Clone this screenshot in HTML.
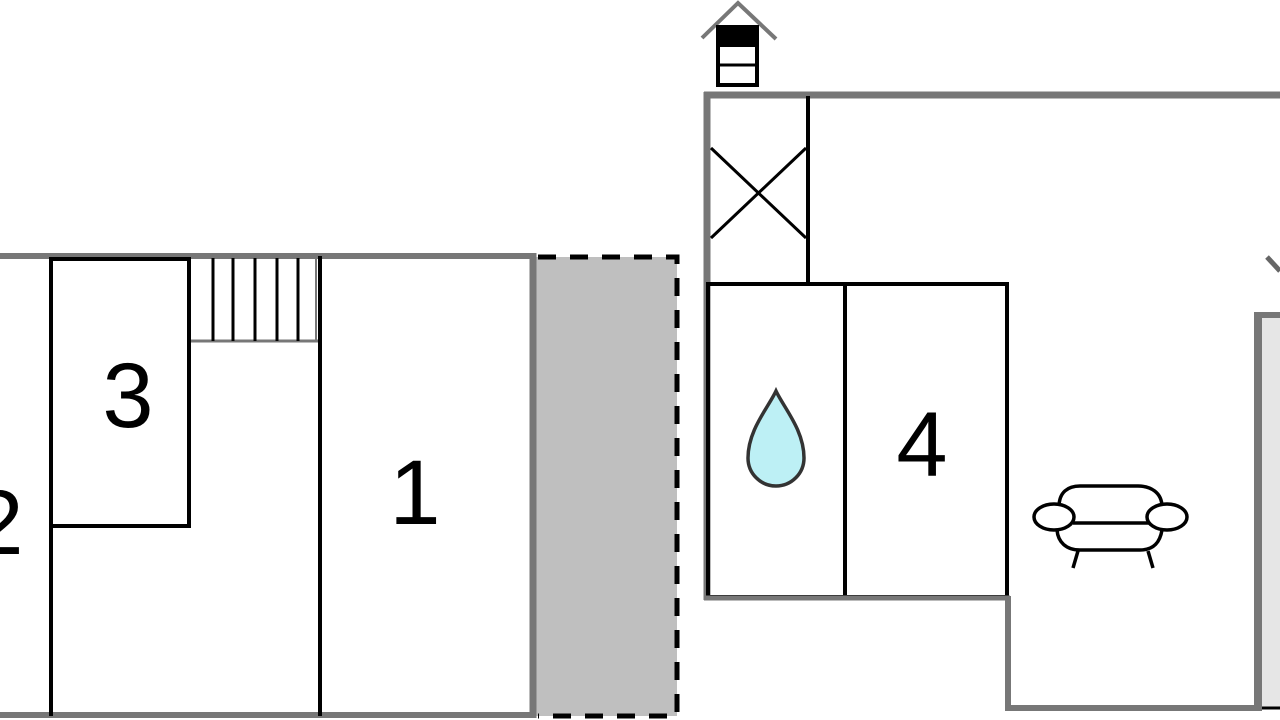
<!DOCTYPE html>
<html><head><meta charset="utf-8"><style>html,body{margin:0;padding:0;background:#fff;width:1280px;height:720px;overflow:hidden}</style></head>
<body>
<svg width="1280" height="720" viewBox="0 0 1280 720" xmlns="http://www.w3.org/2000/svg">
<rect x="536" y="257" width="141" height="459" fill="#bfbfbf"/>
<path d="M538 257 H677 V716 H538" fill="none" stroke="#000" stroke-width="5" stroke-dasharray="18,14"/>
<line x1="0" y1="256" x2="536" y2="256" stroke="#777" stroke-width="6"/>
<line x1="533" y1="253" x2="533" y2="718" stroke="#777" stroke-width="7"/>
<line x1="0" y1="715" x2="536" y2="715" stroke="#777" stroke-width="6"/>
<rect x="51" y="259" width="138" height="267" fill="none" stroke="#000" stroke-width="4"/>
<line x1="51" y1="259" x2="51" y2="716" stroke="#000" stroke-width="4"/>
<line x1="320" y1="256" x2="320" y2="716" stroke="#000" stroke-width="4"/>
<line x1="191" y1="341" x2="318" y2="341" stroke="#777" stroke-width="3"/>
<line x1="316" y1="258" x2="316" y2="341" stroke="#777" stroke-width="2"/>
<g stroke="#000" stroke-width="3">
<line x1="213" y1="258" x2="213" y2="341"/><line x1="233" y1="258" x2="233" y2="341"/><line x1="255" y1="258" x2="255" y2="341"/><line x1="277" y1="258" x2="277" y2="341"/><line x1="298" y1="258" x2="298" y2="341"/>
</g>
<g font-family="Liberation Sans, sans-serif" font-size="92" fill="#000" text-anchor="middle">
<text x="128" y="427">3</text>
<text x="415" y="524">1</text>
<text x="-2" y="554">2</text>
<text x="922" y="476">4</text>
</g>
<polyline points="702,38 738,3 776,39" fill="none" stroke="#777" stroke-width="4"/>
<rect x="718" y="27" width="39" height="58" fill="#fff" stroke="#000" stroke-width="4"/>
<rect x="718" y="27" width="39" height="20" fill="#000"/>
<line x1="718" y1="65" x2="757" y2="65" stroke="#000" stroke-width="3"/>
<line x1="704" y1="95" x2="1280" y2="95" stroke="#777" stroke-width="7"/>
<line x1="707" y1="92" x2="707" y2="600" stroke="#777" stroke-width="7"/>
<line x1="808" y1="96" x2="808" y2="283" stroke="#000" stroke-width="4"/>
<line x1="711" y1="148" x2="806" y2="238" stroke="#000" stroke-width="3"/>
<line x1="806" y1="148" x2="711" y2="238" stroke="#000" stroke-width="3"/>
<rect x="708" y="284" width="299" height="313" fill="none" stroke="#000" stroke-width="4"/>
<line x1="845" y1="284" x2="845" y2="597" stroke="#000" stroke-width="4"/>
<line x1="704" y1="598" x2="1010" y2="598" stroke="#777" stroke-width="5"/>
<line x1="1008" y1="596" x2="1008" y2="710" stroke="#777" stroke-width="6"/>
<line x1="1005" y1="708" x2="1262" y2="708" stroke="#777" stroke-width="6"/>
<rect x="1262" y="318" width="18" height="390" fill="#e6e6e6"/>
<line x1="1258" y1="312" x2="1258" y2="711" stroke="#777" stroke-width="8"/>
<line x1="1254" y1="315" x2="1280" y2="315" stroke="#777" stroke-width="6"/>
<line x1="1267" y1="257" x2="1280" y2="271" stroke="#666" stroke-width="5"/>
<line x1="1262" y1="708" x2="1280" y2="708" stroke="#000" stroke-width="3"/>
<path d="M776 391 C768 408 748 430 748 458 A28 28 0 0 0 804 458 C804 430 784 408 776 391 Z" fill="#bdf0f5" stroke="#333" stroke-width="3.5"/>
<g fill="none" stroke="#000" stroke-width="3.5">
<path d="M1059 507 C1059 492 1068 486 1080 486 H1138 C1150 486 1162 492 1162 507"/>
<path d="M1057 530 C1058 542 1066 550 1080 550 H1140 C1154 550 1160 542 1162 530"/>
<line x1="1073" y1="523" x2="1149" y2="523"/>
<ellipse cx="1054" cy="517" rx="20" ry="13" fill="#fff"/>
<ellipse cx="1167" cy="517" rx="20" ry="13" fill="#fff"/>
<line x1="1078" y1="551" x2="1073" y2="568"/>
<line x1="1148" y1="551" x2="1153" y2="568"/>
</g>
</svg>
</body></html>
